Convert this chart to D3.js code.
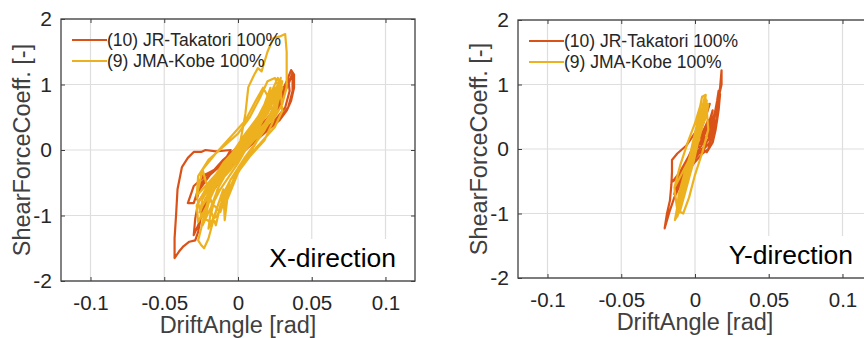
<!DOCTYPE html>
<html>
<head>
<meta charset="utf-8">
<script src="https://cdn.jsdelivr.net/npm/d3@7"></script>
<style>
  body { margin: 0; background: #fff; }
  svg { display: block; font-family: "Liberation Sans", Arial, sans-serif; }
  .tick text { fill: #262626; }
</style>
</head>
<body>
<svg id="chart" width="864" height="338"></svg>
<script>
// series names + colours
const seriesNames = ['(10) JR-Takatori 100%', '(9) JMA-Kobe 100%'];
const seriesColors = ['#D95319', '#EDB120'];

const xTicks = [-0.1, -0.05, 0, 0.05, 0.1];
const yTicks = [-2, -1, 0, 1, 2];

// X-direction, [drift angle, shear force coeff]
const takatoriX = [
  [0,0],[0.004,0.12],[0.002,0.05],[-0.004,-0.12],[-0.002,-0.05],[0.006,0.2],[0.009,0.3],[0.006,0.2],
  [-0.006,-0.18],[-0.01,-0.3],[-0.007,-0.25],[0.005,0.1],[0.012,0.3],[0.016,0.45],[0.012,0.35],[0,0],
  [-0.012,-0.25],[-0.02,-0.35],[-0.025,-0.4],[-0.02,-0.38],[-0.01,-0.2],[-0.005,0],[-0.015,-0.02],
  [-0.022,0],[-0.025,-0.03],[-0.03,-0.03],[-0.034,-0.12],[-0.038,-0.26],[-0.041,-0.6],[-0.042,-1.0],
  [-0.043,-1.35],[-0.043,-1.65],[-0.04,-1.55],[-0.037,-1.47],[-0.033,-1.4],[-0.029,-1.38],[-0.027,-1.25],
  [-0.025,-1.0],[-0.022,-0.75],[-0.015,-0.5],[-0.008,-0.25],[0,-0.05],[0.008,0.1],[0.015,0.3],[0.022,0.55],
  [0.028,0.8],[0.033,1.05],[0.036,1.22],[0.038,1.15],[0.038,0.95],[0.036,0.75],[0.033,0.6],[0.028,0.45],
  [0.02,0.3],[0.01,0.1],[0,-0.1],[-0.01,-0.3],[-0.02,-0.55],[-0.027,-0.8],[-0.029,-1.05],[-0.03,-1.3],
  [-0.027,-1.15],[-0.024,-0.95],[-0.018,-0.65],[-0.008,-0.35],[0.002,-0.05],[0.012,0.2],[0.02,0.4],
  [0.027,0.7],[0.031,0.95],[0.034,1.1],[0.035,0.9],[0.032,0.65],[0.025,0.45],[0.015,0.25],[0.005,0.05],
  [-0.008,-0.2],[-0.02,-0.35],[-0.03,-0.55],[-0.034,-0.81],[-0.03,-0.81],[-0.027,-0.6],[-0.02,-0.4],
  [-0.01,-0.15],[0,0.05],[0.01,0.2],[0.018,0.35],[0.024,0.55],[0.028,0.75],[0.024,0.6],[0.015,0.35],
  [0.005,0.1],[-0.005,-0.1],[0,0],[0.012,0.25],[0.022,0.5],[0.03,0.8],[0.035,1.05],[0.037,1.18],
  [0.037,0.9],[0.034,0.65],[0.027,0.45],[0.018,0.28],[0.008,0.1],[-0.005,-0.12],[-0.015,-0.3],
  [-0.025,-0.5],[-0.028,-0.75],[-0.026,-0.6],[-0.018,-0.35],[-0.008,-0.15],[0.004,0.1],[0.014,0.3],
  [0.023,0.55],[0.029,0.85],[0.032,1.0],[0.03,0.75],[0.025,0.55],[0.017,0.38],[0.01,0.25],[0.006,0.15],
  [0.012,0.35],[0.018,0.5],[0.013,0.3],[0.006,0.12],[-0.004,-0.08],[-0.012,-0.22],[-0.006,-0.1],[0.002,0.02]
];
const kobeX = [
  [0,0],[0.005,0.15],[0.003,0.08],[-0.005,-0.15],[-0.003,-0.05],[0.008,0.25],[0.012,0.4],[0.008,0.3],
  [-0.005,-0.1],[-0.012,-0.35],[-0.018,-0.55],[-0.013,-0.45],[0,-0.05],[0.003,0.3],[0.005,0.55],
  [0.007,0.96],[0.011,1.15],[0.0135,1.25],[0.016,1.2],[0.02,1.5],[0.024,1.71],[0.028,1.73],[0.032,1.77],
  [0.033,1.5],[0.033,1.2],[0.033,0.96],[0.03,0.7],[0.025,0.5],[0.018,0.35],[0.01,0.15],[0,-0.05],
  [-0.01,-0.3],[-0.018,-0.6],[-0.022,-0.9],[-0.025,-1.2],[-0.027,-1.38],[-0.025,-1.45],[-0.023,-1.5],
  [-0.02,-1.35],[-0.017,-1.1],[-0.013,-0.8],[-0.005,-0.45],[0.005,-0.1],[0.015,0.2],[0.022,0.45],
  [0.027,0.75],[0.03,1.05],[0.028,0.8],[0.024,0.5],[0.015,0.3],[0.005,0.1],[-0.005,-0.15],[-0.012,-0.5],
  [-0.018,-0.85],[-0.02,-1.2],[-0.016,-1.0],[-0.01,-0.6],[-0.009,-1.07],[-0.007,-0.7],[0,-0.3],[0.01,0.05],
  [0.018,0.3],[0.024,0.65],[0.028,0.95],[0.029,1.1],[0.026,0.85],[0.02,0.55],[0.01,0.25],[0,0],
  [-0.01,-0.25],[-0.018,-0.5],[-0.024,-0.75],[-0.026,-0.95],[-0.022,-0.75],[-0.014,-0.45],[-0.004,-0.15],
  [0.006,0.15],[0.015,0.4],[0.022,0.7],[0.025,0.95],[0.02,0.65],[0.01,0.3],[0,0.05],[-0.01,-0.2],
  [-0.02,-0.55],[-0.014,-0.4],[-0.004,-0.1],[0.004,0.2],[0.01,0.35],[0.004,0.15],[-0.006,-0.2],
  [-0.012,-0.45],[-0.005,-0.25],[0.002,0.05],[0,0],
  [-0.026,-0.9],[-0.015,-0.55],[-0.005,-0.3],[0.008,0.1],[0.018,0.5],[0.026,0.9],[0.028,1.05],
  [0.024,0.85],[0.014,0.45],[0.002,0.05],[-0.01,-0.3],[-0.018,-0.65],[-0.022,-1.0],[-0.024,-1.15],
  [-0.02,-0.95],[-0.012,-0.6],[0,-0.2],[0.01,0.2],[0.02,0.65],[0.025,1.0],[0.021,0.8],[0.012,0.4],
  [0,0],[-0.012,-0.4],[-0.02,-0.8],[-0.027,-1.1],[-0.028,-0.85],[-0.022,-0.6],[-0.01,-0.25],[0.005,0.25],
  [0.015,0.55],[0.022,0.85],[0.027,1.1],[0.03,0.95],[0.026,0.7],[0.018,0.4],[0.008,0.15],[-0.004,-0.2],
  [-0.014,-0.6],[-0.018,-0.95],[-0.015,-1.15],[-0.012,-0.85],[-0.006,-0.5],[-0.009,-1.07],[-0.008,-0.8],
  [0,-0.35],[0.012,0.1],[0.02,0.45],[0.028,0.85],[0.026,0.6],[0.017,0.3],[0.005,0],[-0.008,-0.3],
  [-0.017,-0.55],[-0.024,-0.85],[-0.02,-0.7],[-0.01,-0.35],[0,0.05],[0.01,0.35],[0.018,0.7],[0.022,0.95],
  [0.02,0.75],[0.012,0.4],[0.002,0.1],[-0.008,-0.15],[-0.016,-0.45],[-0.021,-0.7],[-0.016,-0.55],
  [-0.006,-0.2],[0.004,0.1],[0.012,0.3],[0.006,0.15],[0,0],
  [-0.028,-0.7],[-0.027,-0.4],[-0.02,-0.15],[-0.01,0.05],[0,0.25],[0.008,0.5],[0.015,0.8],[0.02,1.05],
  [0.025,1.1],[0.029,0.9],[0.03,0.6],[0.025,0.35],[0.015,0.1],[0.005,-0.15],[-0.005,-0.45],[-0.01,-0.75],
  [-0.014,-1.0],[-0.019,-1.1],[-0.025,-1.0],[-0.028,-0.7],[-0.024,-0.3],[-0.015,-0.05],[-0.005,0.2],
  [0.005,0.45],[0.012,0.75],[0.017,0.95],[0.022,0.75],[0.024,0.45],[0.018,0.15],[0.008,-0.1],
  [-0.002,-0.4],[-0.008,-0.7],[-0.012,-0.95],[-0.018,-0.8],[-0.024,-0.3]
];

// Y-direction
const takatoriY = [
  [0,0],[0.004,0.15],[0.002,0.05],[-0.004,-0.2],[-0.002,-0.1],[0.006,0.3],[0.009,0.45],[0.006,0.3],
  [-0.004,-0.1],[-0.01,-0.35],[-0.015,-0.5],[-0.012,-0.45],[-0.005,-0.25],[0.003,0],[0.008,0.2],
  [0.012,0.45],[0.015,0.7],[0.017,0.95],[0.018,1.22],[0.018,1.0],[0.016,0.8],[0.015,0.55],[0.014,0.35],
  [0.011,0.15],[0.009,0],[0.005,-0.07],[0,-0.2],[-0.005,-0.35],[-0.01,-0.55],[-0.014,-0.75],[-0.017,-0.95],
  [-0.0206,-1.23],[-0.019,-1.0],[-0.017,-0.8],[-0.016,-0.55],[-0.0156,-0.35],[-0.0156,-0.17],[-0.012,-0.07],
  [-0.006,0.05],[0,0.25],[0.006,0.5],[0.01,0.7],[0.008,0.55],[0.004,0.3],[0,0.05],[-0.005,-0.2],
  [-0.01,-0.45],[-0.012,-0.6],[-0.008,-0.45],[-0.003,-0.2],[0.003,0.1],[0.008,0.35],[0.012,0.5],
  [0.013,0.3],[0.01,0.1],[0.004,-0.05],[0,-0.1],
  [0,0],[0.006,0.15],[0.01,0.25],[0.013,0.5],[0.015,0.75],[0.016,0.9],[0.014,0.6],[0.012,0.35],
  [0.009,0.15],[0.005,0],[0,-0.15],[-0.006,-0.35],[-0.011,-0.55],[-0.014,-0.7],[-0.012,-0.5],
  [-0.007,-0.25],[-0.002,0],[0.004,0.2],[0.01,0.45],[0.012,0.6],[0.01,0.4],[0.006,0.2],[0.002,0.05],
  [0.008,-0.05],[0.012,0.1],[0.014,0.3],[0.016,0.6],[0.017,0.85],[0.015,0.5],[0.011,0.2],[0.006,0.05]
];
const kobeY = [
  [0,0],[0.003,0.15],[0.001,0.05],[-0.003,-0.15],[-0.001,-0.05],[0.004,0.3],[0.006,0.5],[0.004,0.35],
  [-0.002,0],[-0.006,-0.3],[-0.009,-0.55],[-0.007,-0.45],[-0.002,-0.15],[0.002,0.15],[0.005,0.45],
  [0.0073,0.84],[0.0048,0.81],[0.003,0.6],[0.001,0.35],[-0.002,0.05],[-0.005,-0.3],[-0.008,-0.6],
  [-0.011,-0.99],[-0.0136,-1.1],[-0.012,-0.9],[-0.011,-0.7],[-0.008,-0.45],[-0.004,-0.15],[0,0.1],
  [0.004,0.4],[0.007,0.65],[0.008,0.75],[0.006,0.55],[0.003,0.3],[0,0.05],[-0.004,-0.25],[-0.008,-0.55],
  [-0.01,-0.8],[-0.013,-1.05],[-0.01,-0.95],[-0.007,-0.7],[-0.004,-0.45],[-0.001,-0.2],[0.002,0.1],
  [0.005,0.35],[0.008,0.55],[0.009,0.7],[0.007,0.5],[0.003,0.2],[-0.001,-0.1],[-0.004,-0.3],
  [-0.007,-0.55],[-0.005,-0.4],[-0.002,-0.1],[0.001,0.1],[0,0],
  [-0.012,-0.95],[-0.008,-0.5],[-0.004,-0.15],[0,0.2],[0.004,0.5],[0.007,0.8],[0.008,0.7],[0.005,0.4],
  [0.001,0.05],[-0.003,-0.3],[-0.007,-0.65],[-0.01,-0.9],[-0.012,-1.05],[-0.009,-0.75],[-0.005,-0.35],
  [-0.001,0],[0.003,0.35],[0.006,0.6],[0.0065,0.8],[0.004,0.55],[0,0.15],[-0.005,-0.25],[-0.009,-0.6],
  [-0.011,-0.85],[-0.008,-0.6],[-0.003,-0.2],[0.002,0.2],[0.005,0.45],[0.002,0.25],[-0.002,-0.05],
  [-0.006,-0.4],[-0.008,-0.75],[-0.006,-0.55],[-0.002,-0.2],[0.001,0.05],
  [-0.014,-0.6],[-0.01,-0.25],[-0.005,0.1],[0,0.4],[0.004,0.7],[0.008,0.6],[0.009,0.3],[0.005,-0.05],
  [0,-0.4],[-0.004,-0.75],[-0.008,-1.0],[-0.012,-0.95],[-0.014,-0.6]
];

const panels = [
  { left: 61, top: 19, width: 354, height: 262, label: 'X-direction', series: [takatoriX, kobeX] },
  { left: 518, top: 20, width: 354, height: 258, label: 'Y-direction', series: [takatoriY, kobeY] }
];

const svg = d3.select('#chart');

panels.forEach(p => {
  const xScale = d3.scaleLinear().domain([-0.12, 0.12]).range([0, p.width]);
  const yScale = d3.scaleLinear().domain([-2, 2]).range([p.height, 0]);

  const g = svg.append('g').attr('transform', `translate(${p.left},${p.top})`);

  // grid
  g.selectAll('.vgrid').data(xTicks).enter().append('line')
    .attr('x1', d => xScale(d)).attr('x2', d => xScale(d))
    .attr('y1', 0).attr('y2', p.height)
    .attr('stroke', '#dedede').attr('stroke-width', 1.2);
  g.selectAll('.hgrid').data(yTicks).enter().append('line')
    .attr('x1', 0).attr('x2', p.width)
    .attr('y1', d => yScale(d)).attr('y2', d => yScale(d))
    .attr('stroke', '#dedede').attr('stroke-width', 1.2);

  // loops
  const line = d3.line()
    .x(d => xScale(d[0]))
    .y(d => yScale(d[1]))
    .curve(d3.curveLinear);

  p.series.forEach((s, i) => {
    g.append('path')
      .attr('d', line(s))
      .attr('fill', 'none')
      .attr('stroke', seriesColors[i])
      .attr('stroke-width', 2.2)
      .attr('stroke-linejoin', 'round');
  });

  // axes, ticks pointing inward
  const xAxis = d3.axisBottom(xScale).tickValues(xTicks).tickSize(-4).tickPadding(14)
    .tickFormat(d => String(d));
  const yAxis = d3.axisLeft(yScale).tickValues(yTicks).tickSize(-4).tickPadding(9)
    .tickFormat(d => String(d));

  const xAxisG = g.append('g').attr('transform', `translate(0,${p.height})`).call(xAxis);
  const yAxisG = g.append('g').call(yAxis);
  g.append('g').call(d3.axisTop(xScale).tickValues(xTicks).tickSize(-4).tickFormat(''));
  g.append('g').attr('transform', `translate(${p.width},0)`)
    .call(d3.axisRight(yScale).tickValues(yTicks).tickSize(-4).tickFormat(''));

  g.selectAll('.domain').remove();
  g.selectAll('.tick line').attr('stroke', '#404040');
  xAxisG.selectAll('text').attr('font-size', 20.5).attr('dy', '0.71em');
  yAxisG.selectAll('text').attr('font-size', 21);

  // direction label with white box
  const lab = g.append('g');
  lab.append('rect')
    .attr('x', p.width - 150).attr('y', p.height - 42)
    .attr('width', 146).attr('height', 38).attr('fill', '#fff');
  lab.append('text')
    .attr('x', p.width - 19).attr('y', p.height - 14)
    .attr('text-anchor', 'end')
    .attr('font-size', 26.5).attr('fill', '#000')
    .text(p.label);

  // box
  g.append('rect')
    .attr('width', p.width).attr('height', p.height)
    .attr('fill', 'none').attr('stroke', '#404040').attr('stroke-width', 1.3);

  // legend
  const legend = g.append('g').attr('transform', 'translate(11,21)');
  seriesNames.forEach((name, i) => {
    legend.append('line')
      .attr('x1', 0).attr('x2', 35)
      .attr('y1', i * 21).attr('y2', i * 21)
      .attr('stroke', seriesColors[i]).attr('stroke-width', 2);
    legend.append('text')
      .attr('x', 35).attr('y', i * 21 + 6)
      .attr('font-size', 17.5).attr('fill', '#262626')
      .text(name);
  });

  // axis labels
  g.append('text')
    .attr('x', p.width / 2).attr('y', p.height + 52)
    .attr('text-anchor', 'middle')
    .attr('font-size', 23.5).attr('fill', '#404040')
    .text('DriftAngle [rad]');
  g.append('text')
    .attr('transform', `translate(-31,${p.height / 2}) rotate(-90)`)
    .attr('text-anchor', 'middle')
    .attr('font-size', 23.5).attr('fill', '#404040')
    .text('ShearForceCoeff. [-]');
});
</script>
</body>
</html>
